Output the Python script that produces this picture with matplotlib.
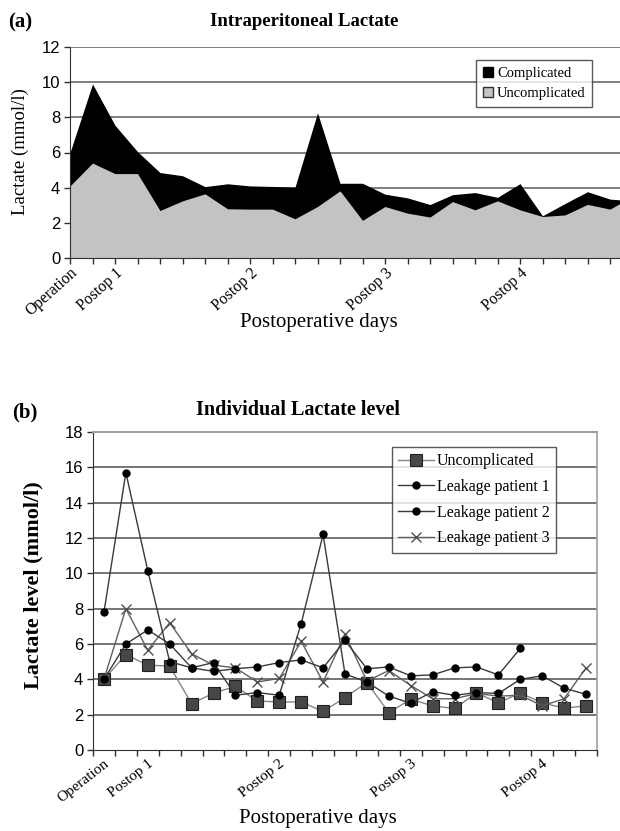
import numpy as np
import matplotlib
matplotlib.use("Agg")
import matplotlib.pyplot as plt
from matplotlib.patches import Patch

# ---------------- data ----------------
# (a) Intraperitoneal lactate, mean values (chart is cut on the right side)
labels_a = ['Operation', '', 'Postop 1', '', '', '', '', '', 'Postop 2', '', '', '', '', '',
            'Postop 3', '', '', '', '', '', 'Postop 4', '', '', '', '', '']
complicated = [6.0, 9.9, 7.55, 6.05, 4.86, 4.68, 4.06, 4.22, 4.1, 4.07, 4.03, 8.26, 4.25, 4.25,
               3.63, 3.42, 3.04, 3.6, 3.72, 3.45, 4.23, 2.4, 3.1, 3.77, 3.35, 3.25]
uncomplicated_a = [4.1, 5.4, 4.8, 4.8, 2.7, 3.25, 3.65, 2.8, 2.78, 2.78, 2.23, 2.93, 3.82, 2.14,
                   2.93, 2.55, 2.33, 3.21, 2.74, 3.25, 2.74, 2.36, 2.45, 3.05, 2.78, 3.5]

# (b) Individual lactate level
labels_b = ['Operation', '', 'Postop 1', '', '', '', '', '', 'Postop 2', '', '', '', '', '',
            'Postop 3', '', '', '', '', '', 'Postop 4', '', '']
uncomplicated_b = [4.0, 5.4, 4.8, 4.75, 2.62, 3.22, 3.6, 2.77, 2.72, 2.72, 2.18, 2.97, 3.82,
                   2.12, 2.87, 2.5, 2.35, 3.23, 2.67, 3.23, 2.67, 2.37, 2.5]
leak1 = [7.8, 15.7, 10.15, 5.0, 4.65, 4.95, 3.1, 3.25, 3.1, 7.15, 12.2, 4.3, 3.85, 3.05, 2.65,
         3.3, 3.1, 3.25, 3.2, 4.0, 4.2, 3.5, 3.15]
leak2 = [4.0, 6.0, 6.8, 6.0, 4.65, 4.45, 4.6, 4.7, 4.95, 5.1, 4.65, 6.2, 4.6, 4.7, 4.2, 4.25,
         4.65, 4.7, 4.25, 5.75, np.nan, np.nan, np.nan]
leak3 = [4.0, 8.0, 5.65, 7.2, 5.45, 4.8, 4.65, 3.85, 4.05, 6.15, 3.85, 6.55, 3.9, 4.5, 3.65,
         2.9, 2.9, 3.2, 3.05, 3.1, 2.5, 2.9, 4.65]

SERIF = ['Liberation Serif', 'DejaVu Serif']
SANS = ['Liberation Sans', 'DejaVu Sans']

W, H = 620, 831
fig = plt.figure(figsize=(W / 100, H / 100), dpi=100)
fig.patch.set_facecolor('white')


def fx(px):
    return px / W


def fy(py):
    return 1 - py / H


GRID_C = '#6a6a6a'

# ---------------- panel (a) ----------------
ax1 = fig.add_axes([fx(70), fy(258), fx(632.5) - fx(70), fy(47) - fy(258)])
xa = np.arange(len(complicated))
ax1.fill_between(xa, 0, complicated, color='black', linewidth=0, zorder=2)
ax1.fill_between(xa, 0, uncomplicated_a, color='#c3c3c3', linewidth=0, zorder=3)
ax1.set_xlim(0, len(complicated) - 1)
ax1.set_ylim(0, 12)
ax1.set_yticks(np.arange(0, 13, 2))
for v in np.arange(2, 13, 2):
    ax1.axhline(v, color=GRID_C, lw=1.2, zorder=1)
ax1.set_xticks(xa)
ax1.set_xticklabels(labels_a, rotation=42, ha='right', va='top', rotation_mode='anchor',
                    family=SERIF, fontsize=11.5)
for s in ['top', 'right']:
    ax1.spines[s].set_visible(False)
ax1.spines['left'].set_color('#303030')
ax1.spines['bottom'].set_color('#303030')
ax1.spines['left'].set_zorder(5)
ax1.spines['bottom'].set_zorder(5)
ax1.tick_params(axis='x', length=4, width=1, color='#303030', pad=1)
ax1.tick_params(axis='y', length=4, width=1, color='#303030', pad=3)
for t in ax1.get_yticklabels():
    t.set_family(SANS)
    t.set_fontsize(12)

fig.text(fx(8), fy(22), '(a)', family=SERIF, fontsize=15, fontweight='bold', va='center', ha='left')
fig.text(fx(304), fy(22), 'Intraperitoneal Lactate', family=SERIF, fontsize=13.5,
         fontweight='bold', va='center', ha='center')
fig.text(fx(20), fy(152), 'Lactate (mmol/l)', family=SERIF, fontsize=13.5, rotation=90,
         va='center', ha='center')
fig.text(fx(319), fy(323), 'Postoperative days', family=SERIF, fontsize=15, va='center', ha='center')

leg1 = fig.legend(handles=[Patch(facecolor='black', edgecolor='black', label='Complicated'),
                           Patch(facecolor='#c3c3c3', edgecolor='#303030', label='Uncomplicated')],
                  loc='upper left', bbox_to_anchor=(fx(476), fy(60)), frameon=True, fancybox=False,
                  prop={'family': SERIF, 'size': 10.5}, handlelength=0.7, handleheight=0.7,
                  handletextpad=0.3, borderpad=0.45, labelspacing=0.5, borderaxespad=0)
leg1.get_frame().set_edgecolor('#303030')
leg1.get_frame().set_linewidth(1.0)

# ---------------- panel (b) ----------------
ax2 = fig.add_axes([fx(93), fy(750), fx(597) - fx(93), fy(432) - fy(750)])
xb = np.arange(len(uncomplicated_b))
ax2.set_xlim(-0.5, len(uncomplicated_b) - 0.5)
ax2.set_ylim(0, 18)
ax2.set_yticks(np.arange(0, 19, 2))
for v in np.arange(2, 18, 2):
    ax2.axhline(v, color=GRID_C, lw=1.3, zorder=1)

ax2.plot(xb, uncomplicated_b, color='#858585', lw=1.0, marker='s', markersize=8.5,
         markerfacecolor='#474747', markeredgecolor='#202020', markeredgewidth=0.8, zorder=4,
         label='Uncomplicated')
ax2.plot(xb, leak1, color='#3a3a3a', lw=1.0, marker='o', markersize=5,
         markerfacecolor='black', markeredgecolor='black', zorder=5, label='Leakage patient 1')
ax2.plot(xb, leak2, color='#3a3a3a', lw=1.0, marker='o', markersize=5,
         markerfacecolor='black', markeredgecolor='black', zorder=5, label='Leakage patient 2')
ax2.plot(xb, leak3, color='#606060', lw=1.0, marker='x', markersize=7, markeredgewidth=1.0,
         markeredgecolor='#505050', zorder=4, label='Leakage patient 3')

ax2.set_xticks(xb)
ax2.set_xticklabels(labels_b, rotation=38, ha='right', va='top', rotation_mode='anchor',
                    family=SERIF, fontsize=11)
ax2.set_xticks(np.arange(-0.5, len(uncomplicated_b)), minor=True)
ax2.tick_params(axis='x', which='major', length=0, pad=5)
ax2.tick_params(axis='x', which='minor', length=4, width=1, color='#303030')
ax2.tick_params(axis='y', length=4, width=1, color='#303030', pad=3)
for t in ax2.get_yticklabels():
    t.set_family(SANS)
    t.set_fontsize(12)
ax2.spines['left'].set_color('#303030')
ax2.spines['bottom'].set_color('#303030')
ax2.spines['top'].set_color('#a0a0a0')
ax2.spines['right'].set_color('#a0a0a0')
ax2.spines['top'].set_linewidth(1.5)
ax2.spines['right'].set_linewidth(1.2)

fig.text(fx(12), fy(412), '(b)', family=SERIF, fontsize=15, fontweight='bold', va='center', ha='left')
fig.text(fx(298), fy(410), 'Individual Lactate level', family=SERIF, fontsize=14.5,
         fontweight='bold', va='center', ha='center')
fig.text(fx(33), fy(585), 'Lactate level (mmol/l)', family=SERIF, fontsize=16,
         fontweight='bold', rotation=90, va='center', ha='center')
fig.text(fx(318), fy(818), 'Postoperative days', family=SERIF, fontsize=15, va='center', ha='center')

handles_b, lab_b = ax2.get_legend_handles_labels()
leg2 = fig.legend(handles_b, lab_b, loc='upper left', bbox_to_anchor=(fx(392), fy(447)),
                  frameon=True, fancybox=False, prop={'family': SERIF, 'size': 11.5},
                  handlelength=2.2, handletextpad=0.2, borderpad=0.4, labelspacing=0.6,
                  borderaxespad=0)
leg2.get_frame().set_edgecolor('#303030')
leg2.get_frame().set_linewidth(1.0)
leg2.set_zorder(10)

fig.savefig('out.png', dpi=100, facecolor='white')
